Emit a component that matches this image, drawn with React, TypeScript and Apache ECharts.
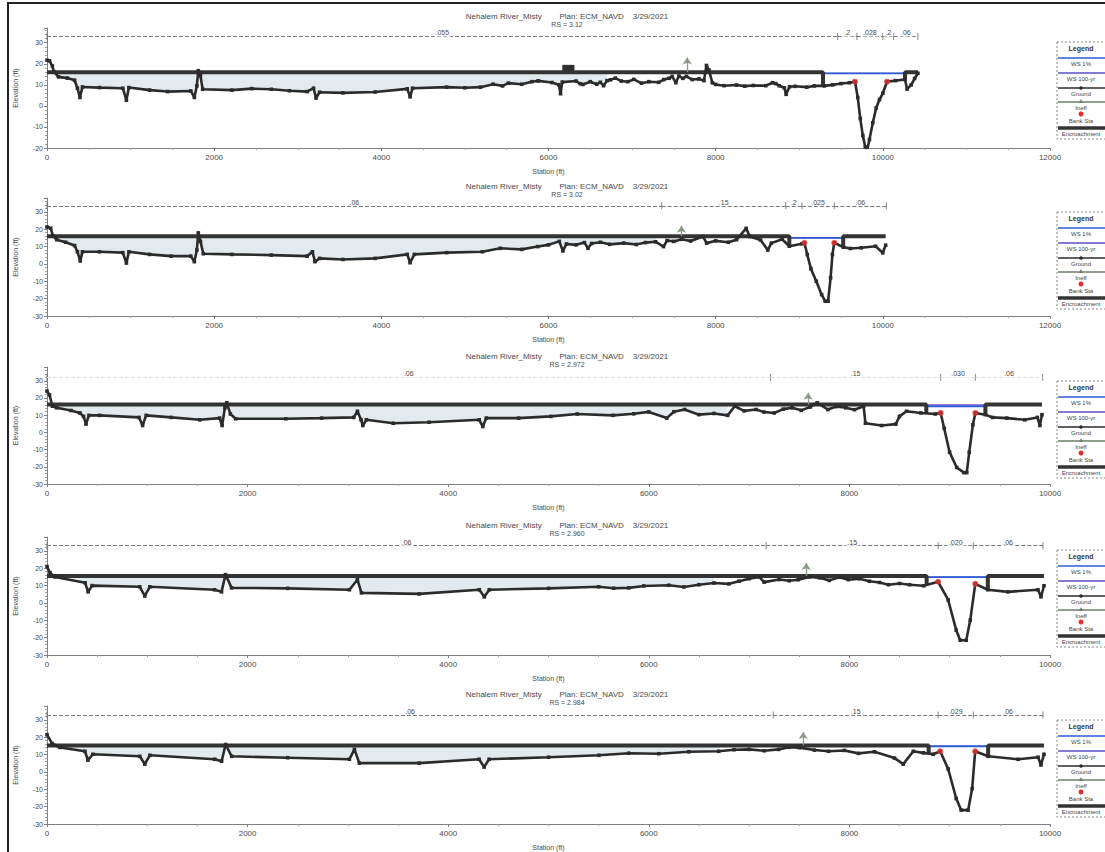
import React, { useEffect, useRef } from "react";
import * as echarts from "echarts";

const RIVER = "Nehalem River_Misty";
const PLAN = "Plan: ECM_NAVD    3/29/2021";
const RS_LABELS = ["RS = 3.12", "RS = 3.02", "RS = 2.972", "RS = 2.960", "RS = 2.984"];
const LEGEND_ITEMS = ["WS 1%", "WS 100-yr", "Ground", "Ineff", "Bank Sta", "Encroachment"];

// ground profiles [station, elevation]
const ground1 = [
  [0, 21.7], [30, 21.4], [64, 19], [81, 16.3], [137, 13.8], [244, 13.2], [330, 12.2], [364, 8.4], [394, 4], [424, 9],
  [630, 8.7], [907, 8.4], [950, 2.7], [980, 8.7], [1228, 7.5], [1442, 6.8], [1720, 7.1], [1763, 4], [1793, 9.5], [1810, 16.7],
  [1836, 14.3], [1862, 7.9], [2213, 7.5], [2450, 8.2], [2684, 7.9], [2900, 7.2], [3112, 6.8], [3189, 8.4], [3219, 3.7], [3261, 6.5],
  [3540, 6.2], [3925, 6.6], [4310, 8.1], [4344, 4.3], [4374, 8.4], [4781, 8.9], [5000, 8.6], [5187, 8.9], [5337, 10.3], [5450, 9.5],
  [5520, 10.8], [5680, 10.3], [5800, 11.5], [5876, 11.9], [6041, 11.1], [6124, 10], [6144, 5.8], [6165, 11.3], [6330, 11.8], [6380, 10.5],
  [6412, 10.2], [6500, 11.5], [6577, 10.3], [6620, 11.2], [6659, 9.6], [6700, 12], [6742, 12.4], [6800, 13.2], [6870, 11.8], [6948, 11.5],
  [7020, 12.6], [7112, 10.8], [7200, 11.5], [7318, 11.2], [7380, 12.5], [7442, 13.1], [7480, 14], [7524, 11], [7560, 14.2], [7607, 13.1],
  [7650, 14], [7720, 12.5], [7800, 12.8], [7860, 12], [7890, 19.2], [7920, 17], [7960, 11], [8000, 10.2], [8100, 9.6], [8250, 9.9],
  [8348, 9.4], [8450, 9.7], [8600, 9.6], [8680, 11], [8719, 10.6], [8760, 9.6], [8822, 8.6], [8843, 5.5], [8884, 9.1], [8950, 9.3],
  [9090, 8.9], [9180, 9.5], [9300, 9.5], [9400, 10], [9500, 10.6], [9600, 11], [9667, 11.5], [9700, 4], [9730, -6], [9760, -14],
  [9790, -19.5], [9815, -20.5], [9840, -16], [9880, -8], [9920, -1], [9960, 3], [10000, 6], [10050, 11.5], [10150, 12], [10265, 12.5],
  [10290, 8], [10340, 10], [10380, 13], [10420, 15.5],
];
const ground2 = [
  [0, 21.3], [43, 20.6], [73, 16], [116, 14], [223, 12.5], [330, 10.6], [364, 7], [398, 1.7], [424, 7], [629, 7],
  [907, 6.5], [950, 0.5], [980, 7], [1228, 5.5], [1485, 4.5], [1720, 4.5], [1763, 1.3], [1793, 8], [1810, 17.9], [1836, 13],
  [1870, 5.9], [2213, 5.5], [2684, 5.1], [3112, 4.5], [3176, 7], [3206, 1.3], [3261, 3.2], [3540, 2.6], [3925, 3.2], [4310, 5.5],
  [4344, 0.7], [4395, 5.5], [4781, 6.5], [5209, 7], [5423, 9], [5680, 8.4], [5871, 10], [6000, 11], [6129, 13], [6172, 7.5],
  [6215, 11.5], [6330, 11], [6430, 12.3], [6473, 9], [6516, 11.8], [6620, 12.5], [6731, 11.3], [6900, 12], [7050, 11.2], [7161, 12.3],
  [7280, 12.8], [7376, 10], [7419, 13.5], [7500, 13], [7591, 14.2], [7700, 13.2], [7849, 15.8], [7892, 12], [8000, 13.3], [8150, 12.5],
  [8250, 14], [8365, 20.5], [8408, 15.8], [8537, 13.8], [8623, 8], [8666, 12], [8795, 14.2], [8881, 10.2], [9032, 11.6], [9062, 12.2],
  [9096, 5.4], [9139, -2.7], [9204, -10], [9268, -17.7], [9311, -21.5], [9345, -21.5], [9375, -8], [9397, 5.4], [9419, 12.2], [9526, 9.7],
  [9612, 8.9], [9741, 9.3], [9913, 10.2], [9999, 6.4], [10034, 10.8],
];
const ground3 = [
  [0, 24], [25, 21.8], [54, 15.2], [96, 14.3], [239, 12.7], [328, 11.3], [364, 9.3], [389, 4.8], [418, 9.9], [525, 9.9],
  [917, 8.7], [953, 4], [989, 9.9], [1239, 8.7], [1524, 7.3], [1721, 8.3], [1746, 4], [1774, 14.3], [1792, 17.2], [1828, 10.7],
  [1881, 7.9], [2381, 7.9], [2738, 8.3], [3059, 8.7], [3095, 12.3], [3131, 7.3], [3149, 4], [3184, 7.3], [3452, 5.3], [3809, 5.9],
  [4309, 7.3], [4345, 3.4], [4380, 8.3], [4702, 8.3], [5023, 9.3], [5286, 10.7], [5643, 9.9], [5850, 10.8], [6000, 11.9], [6179, 8.3],
  [6250, 12], [6357, 13.3], [6500, 10.3], [6650, 11], [6786, 9.9], [6857, 15.2], [6950, 12.5], [7071, 13.3], [7150, 11.8], [7250, 11.3],
  [7340, 13.5], [7428, 14.3], [7520, 12.8], [7607, 14.7], [7678, 17.2], [7785, 13.3], [7870, 15], [7964, 14.3], [8050, 13.2], [8142, 15.2],
  [8160, 5.3], [8321, 4], [8463, 4.8], [8499, 9.3], [8570, 12.3], [8713, 11.3], [8856, 10.7], [8910, 11.3], [8945, 2.4], [8999, -11.5],
  [9070, -20.4], [9142, -23.4], [9170, -23.4], [9195, -11.5], [9231, 4.4], [9256, 11.3], [9356, 10.3], [9427, 8.7], [9570, 8.3], [9749, 7.3],
  [9874, 8.7], [9899, 4], [9920, 10.3],
];
const ground4 = [
  [0, 21], [30, 17.4], [80, 15], [380, 11.6], [410, 6.4], [450, 10], [925, 9.3], [975, 4], [1025, 9.3], [1670, 7.6],
  [1740, 6.4], [1780, 16.3], [1840, 8.7], [2400, 8.4], [3015, 7.6], [3095, 13.4], [3135, 5.8], [3710, 5.2], [4310, 7.6], [4360, 3.5],
  [4410, 7.6], [5000, 8.4], [5500, 9.3], [5650, 8.5], [5800, 8.7], [5950, 9.8], [6200, 10.2], [6350, 9.2], [6500, 10.5], [6650, 11.5],
  [6800, 11], [6900, 12.5], [7000, 14], [7100, 15], [7150, 12], [7300, 13.5], [7400, 12.8], [7490, 13.4], [7600, 15], [7700, 14.5],
  [7800, 13], [7900, 14.8], [7990, 13.4], [8100, 14], [8200, 12.5], [8300, 11.8], [8390, 10.5], [8500, 11.2], [8600, 10.5], [8740, 9.9],
  [8885, 12.2], [8985, 1.7], [9065, -15.7], [9105, -21.5], [9165, -21.5], [9205, -9.9], [9255, 11], [9380, 7.6], [9580, 6.4], [9880, 7.6],
  [9910, 3.5], [9940, 9.9],
];
const ground5 = [
  [0, 21.5], [50, 16.4], [130, 14.1], [378, 11.9], [408, 6.8], [458, 10.2], [925, 9], [975, 4.5], [1025, 9.6], [1672, 7.3],
  [1741, 6.2], [1781, 15.8], [1841, 9], [2400, 8.2], [3015, 7.3], [3065, 13], [3114, 5.1], [3711, 5.1], [4308, 7.3], [4358, 2.8],
  [4408, 7.3], [5000, 8.5], [5502, 9.6], [5800, 10.8], [6100, 10.5], [6400, 11.6], [6697, 11.9], [6850, 12.8], [7000, 13], [7150, 12.2],
  [7294, 13], [7400, 14.2], [7500, 14], [7650, 12.6], [7791, 11.9], [7950, 12.4], [8090, 10.7], [8250, 11.6], [8450, 8], [8537, 4.5],
  [8637, 11.9], [8736, 11], [8836, 10.2], [8905, 11.9], [8985, 1.7], [9065, -15.3], [9114, -22], [9184, -22], [9224, -9.6], [9254, 11.9],
  [9383, 9], [9682, 7.3], [9881, 8.5], [9910, 4], [9940, 10.2],
];

// encroachment stations: left, right, end
const encr1 = [9284, 10265, 10420];
const encr2 = [8881, 9526, 10034];
const encr3 = [8767, 9356, 9920];
const encr4 = [8770, 9380, 9940];
const encr5 = [8790, 9383, 9940];
const encrElev = [16, 16, 16.2, 15.5, 15.3];
const ws1Elev = [15.4, 15, 15.2, 14.9, 14.8];
const ws100Elev = [15.4, 15, 16, 14.9, 14.8];
const bank1 = [9667, 10050];
const bank2 = [9062, 9419];
const bank3 = [8910, 9256];
const bank4 = [8885, 9255];
const bank5 = [8905, 9254];
const ineffSta = [7660, 7591, 7589, 7570, 7540];
const ineffTop = [23, 22, 23, 23, 23];
const fillEnd = [6700, 7300, 6800, 6700, 6800];
const block1 = [6165, 6310, 16, 19.5];
const nElev = [33, 33.5, 32, 33, 32.8];
const nBreaks1 = [0, 9460, 9690, 10000, 10130, 10420];
const nLabels1 = [".055", ".2", ".028", ".2", ".06"];
const nBreaks2 = [0, 7354, 8838, 9032, 9419, 10042];
const nLabels2 = [".06", ".15", ".2", ".025", ".06"];
const nBreaks3 = [0, 7214, 8910, 9256, 9927];
const nLabels3 = [".06", ".15", ".030", ".06"];
const nBreaks4 = [0, 7170, 8885, 9235, 9930];
const nLabels4 = [".06", ".15", ".020", ".06"];
const nBreaks5 = [0, 7240, 8885, 9235, 9930];
const nLabels5 = [".06", ".15", ".029", ".06"];
const xMaxes = [12000, 12000, 10000, 10000, 10000];
const yMins = [-20, -30, -30, -30, -30];
const yMaxes = [37, 38, 38, 38, 38];

// layout (pixels)
const GRID_TOP = [28, 198, 367, 537, 706];
const GRID_H = [120, 118, 117, 118, 120];
const TITLE_TOP = [7, 177, 347, 516, 685];
const LEGEND_TOP = [42, 212, 381, 550, 720];

const PANELS = [
  { g: ground1, encr: encr1, bank: bank1, nb: nBreaks1, nl: nLabels1 },
  { g: ground2, encr: encr2, bank: bank2, nb: nBreaks2, nl: nLabels2 },
  { g: ground3, encr: encr3, bank: bank3, nb: nBreaks3, nl: nLabels3 },
  { g: ground4, encr: encr4, bank: bank4, nb: nBreaks4, nl: nLabels4 },
  { g: ground5, encr: encr5, bank: bank5, nb: nBreaks5, nl: nLabels5 },
];

function interp(g: number[][], x: number): number {
  for (let i = 0; i < g.length - 1; i++) {
    if (x >= g[i][0] && x <= g[i + 1][0]) {
      const t = (x - g[i][0]) / (g[i + 1][0] - g[i][0] || 1);
      return g[i][1] + t * (g[i + 1][1] - g[i][1]);
    }
  }
  return g[g.length - 1][1];
}

const FONT = "Liberation Sans, Arial, sans-serif";
const TXT = "#4a4a4a";

function buildOption() {
  const grid: any[] = [];
  const xAxis: any[] = [];
  const yAxis: any[] = [];
  const series: any[] = [];
  const title: any[] = [];
  const graphic: any[] = [];

  PANELS.forEach((p, i) => {
    const e = encrElev[i];
    grid.push({ left: 47, right: 55, top: GRID_TOP[i], height: GRID_H[i], show: false });
    xAxis.push({
      type: "value", gridIndex: i, min: 0, max: xMaxes[i], interval: 2000,
      name: "Station (ft)", nameLocation: "middle", nameGap: 20,
      nameTextStyle: { fontSize: 7, color: TXT, fontFamily: FONT },
      axisLine: { onZero: false, lineStyle: { color: "#808080", width: 1 } },
      axisTick: { length: 3, lineStyle: { color: "#808080" } },
      minorTick: { show: true, splitNumber: 4, length: 2, lineStyle: { color: "#a0a0a0" } },
      axisLabel: { fontSize: 8, color: TXT, margin: 5, fontFamily: FONT, formatter: (v: number) => String(v) },
      splitLine: { show: false },
    });
    yAxis.push({
      type: "value", gridIndex: i, min: yMins[i], max: yMaxes[i], interval: 10,
      name: "Elevation (ft)", nameLocation: "middle", nameGap: 28,
      nameTextStyle: { fontSize: 7, color: TXT, fontFamily: FONT },
      axisLine: { show: true, onZero: false, lineStyle: { color: "#808080", width: 1 } },
      axisTick: { show: true, length: 3, lineStyle: { color: "#808080" } },
      minorTick: { show: true, splitNumber: 5, length: 2, lineStyle: { color: "#a0a0a0" } },
      axisLabel: {
        fontSize: 7, color: TXT, margin: 4, fontFamily: FONT,
        formatter: (v: number) => (v % 10 === 0 ? String(v) : ""),
      },
      splitLine: { show: false },
    });

    const fillData = p.g
      .filter((d) => d[0] >= 50 && d[0] <= fillEnd[i])
      .map((d) => [d[0], Math.min(d[1], e)]);
    series.push({
      type: "custom", name: "Water", xAxisIndex: i, yAxisIndex: i, data: fillData, silent: true, z: 1,
      encode: { x: 0, y: 1 },
      renderItem: (params: any, api: any) => {
        if (params.dataIndex !== 0) return null;
        const pts = fillData.map((d) => api.coord(d));
        pts.push(api.coord([fillData[fillData.length - 1][0], e]));
        pts.push(api.coord([fillData[0][0], e]));
        return { type: "polygon", shape: { points: pts }, style: { fill: "#e3eaed", stroke: "none" } };
      },
    });

    // n values line
    const nSeg: any[] = [];
    for (let k = 0; k < p.nl.length; k++) {
      nSeg.push([
        { coord: [p.nb[k], nElev[i]], name: p.nl[k] },
        { coord: [p.nb[k + 1], nElev[i]] },
      ]);
    }
    series.push({
      type: "scatter", name: "n breaks", xAxisIndex: i, yAxisIndex: i, silent: true, z: 2,
      data: p.nb.map((b) => [b, nElev[i]]),
      symbol: "rect", symbolSize: [1, 7], itemStyle: { color: "#666" },
      markLine: {
        silent: true, symbol: ["none", "none"],
        lineStyle: { color: i === 2 ? "#dcdcdc" : "#7a7a7a", width: 1, type: [4, 2] },
        label: {
          show: true, position: "middle", formatter: "{b}", fontSize: 7, color: TXT, fontFamily: FONT,
          backgroundColor: "#fff", padding: [0, 2], distance: 0,
        },
        data: nSeg,
      },
    });

    // encroachments
    series.push({
      type: "line", name: "Encroachment", xAxisIndex: i, yAxisIndex: i, z: 4, symbol: "none",
      lineStyle: { color: "#333", width: 4 },
      data: [[0, e], [p.encr[0], e], [p.encr[0], interp(p.g, p.encr[0])]],
      markArea: i === 0 ? {
        silent: true, itemStyle: { color: "#2e2e2e" },
        data: [[{ coord: [block1[0], block1[2]] }, { coord: [block1[1], block1[3]] }]],
      } : undefined,
    });
    series.push({
      type: "line", name: "Encroachment", xAxisIndex: i, yAxisIndex: i, z: 4, symbol: "none",
      lineStyle: { color: "#333", width: 4 },
      data: [[p.encr[1], interp(p.g, p.encr[1])], [p.encr[1], e], [p.encr[2], e]],
    });
    // water surfaces
    series.push({
      type: "line", name: "WS 100-yr", xAxisIndex: i, yAxisIndex: i, z: 3, symbol: "none",
      lineStyle: { color: "#7a4ec4", width: 1.2 },
      data: [[p.encr[0], ws100Elev[i]], [p.encr[1], ws100Elev[i]]],
    });
    series.push({
      type: "line", name: "WS 1%", xAxisIndex: i, yAxisIndex: i, z: 3, symbol: "none",
      lineStyle: { color: "#2f5ad6", width: 1.8 },
      data: [[p.encr[0], ws1Elev[i]], [p.encr[1], ws1Elev[i]]],
    });
    // ineffective flow arrow
    series.push({
      type: "line", name: "Ineff", xAxisIndex: i, yAxisIndex: i, z: 3, data: [],
      markLine: {
        silent: true, symbol: ["none", "arrow"], symbolSize: 7,
        lineStyle: { color: "#8a9886", width: 1.3, type: "solid" },
        label: { show: false },
        data: [[{ coord: [ineffSta[i], e] }, { coord: [ineffSta[i], ineffTop[i]] }]],
      },
    });
    // ground
    series.push({
      type: "line", name: "Ground", xAxisIndex: i, yAxisIndex: i, z: 5,
      data: p.g, symbol: "rect", symbolSize: 3.6, showSymbol: true, showAllSymbol: true,
      lineStyle: { color: "#2b2b2b", width: 2.6 }, itemStyle: { color: "#2b2b2b" },
    });
    // bank stations
    series.push({
      type: "scatter", name: "Bank Sta", xAxisIndex: i, yAxisIndex: i, z: 6,
      data: p.bank.map((b) => [b, interp(p.g, b)]),
      symbol: "circle", symbolSize: 6, itemStyle: { color: "#e23030" },
    });

    title.push({
      text: RIVER + "        " + PLAN, subtext: RS_LABELS[i],
      left: 562, top: TITLE_TOP[i], textAlign: "center", itemGap: 1,
      textStyle: { fontSize: 8, fontWeight: "normal", color: TXT, fontFamily: FONT },
      subtextStyle: { fontSize: 7, color: TXT, fontFamily: FONT },
    });

    // legend box
    const T = LEGEND_TOP[i];
    const cx = 1081;
    const lx1 = 1058, lx2 = 1105;
    const ch: any[] = [
      { type: "rect", shape: { x: 1057, y: T, width: 62, height: 97 }, style: { fill: "#fff", stroke: "#888", lineWidth: 1, lineDash: [2, 2] } },
      { type: "text", style: { x: cx, y: T + 6, text: "Legend", fontSize: 7, fontWeight: "bold", fill: "#333", align: "center", verticalAlign: "middle", fontFamily: FONT } },
      { type: "line", shape: { x1: lx1, y1: T + 16, x2: lx2, y2: T + 16 }, style: { stroke: "#2f5ad6", lineWidth: 1.5 } },
      { type: "line", shape: { x1: lx1, y1: T + 31, x2: lx2, y2: T + 31 }, style: { stroke: "#5a4ec4", lineWidth: 1.5 } },
      { type: "line", shape: { x1: lx1, y1: T + 46, x2: lx2, y2: T + 46 }, style: { stroke: "#2b2b2b", lineWidth: 1.5 } },
      { type: "circle", shape: { cx: cx, cy: T + 46, r: 1.8 }, style: { fill: "#2b2b2b" } },
      { type: "line", shape: { x1: lx1, y1: T + 60, x2: lx2, y2: T + 60 }, style: { stroke: "#6e7e6a", lineWidth: 1.5 } },
      { type: "polygon", shape: { points: [[cx - 2, T + 61], [cx + 2, T + 61], [cx, T + 57]] }, style: { fill: "#6e7e6a" } },
      { type: "circle", shape: { cx: cx, cy: T + 72, r: 2.5 }, style: { fill: "#e23030" } },
      { type: "line", shape: { x1: lx1, y1: T + 86, x2: lx2, y2: T + 86 }, style: { stroke: "#333", lineWidth: 3.5 } },
    ];
    const textY = [22, 37, 52, 66, 79, 92];
    LEGEND_ITEMS.forEach((t, k) => {
      ch.push({ type: "text", style: { x: cx, y: T + textY[k], text: t, fontSize: 6, fill: "#444", align: "center", verticalAlign: "middle", fontFamily: FONT } });
    });
    graphic.push({ type: "group", children: ch });
  });

  graphic.push({
    type: "rect", shape: { x: 8, y: 3, width: 1110, height: 860 },
    style: { fill: "none", stroke: "#222", lineWidth: 2 }, silent: true,
  });

  return { animation: false, backgroundColor: "#fff", grid, xAxis, yAxis, series, title, graphic };
}

export default function App() {
  const ref = useRef<HTMLDivElement>(null);
  useEffect(() => {
    if (!ref.current) return;
    const chart = echarts.init(ref.current, undefined, { renderer: "svg" });
    chart.setOption(buildOption() as any);
    return () => chart.dispose();
  }, []);
  return (
    <div
      ref={ref}
      style={{ position: "fixed", left: 0, top: 0, width: 1105, height: 852, background: "#fff" }}
    />
  );
}
